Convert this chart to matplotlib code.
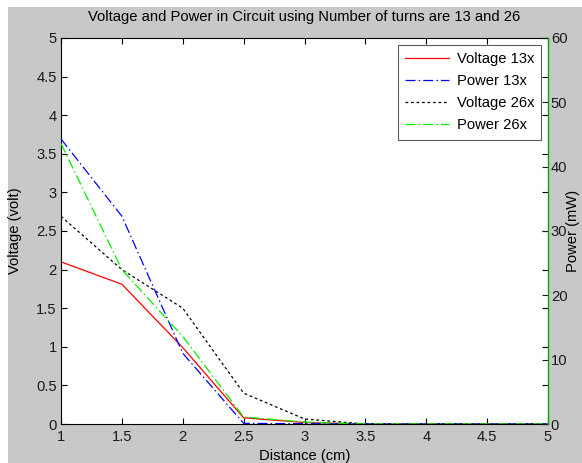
import matplotlib
matplotlib.use("Agg")
import matplotlib.pyplot as plt
from matplotlib.patches import Rectangle

plt.rcParams['font.family'] = ['Liberation Sans', 'DejaVu Sans']

distance = [1, 1.5, 2, 2.5, 3, 3.5, 4, 4.5, 5]
voltage_13 = [2.1, 1.81, 0.99, 0.08, 0.02, 0, 0, 0, 0]
power_13 = [44.3, 32.3, 11.0, 0.1, 0.05, 0, 0, 0, 0]
voltage_26 = [2.69, 2.0, 1.5, 0.4, 0.065, 0.0, 0, 0, 0]
power_26 = [43.6, 24.0, 13.6, 1.1, 0.3, 0, 0, 0, 0]

x_ticks = [1, 1.5, 2, 2.5, 3, 3.5, 4, 4.5, 5]
x_labels = ['1', '1.5', '2', '2.5', '3', '3.5', '4', '4.5', '5']
left_ticks = [0, 0.5, 1, 1.5, 2, 2.5, 3, 3.5, 4, 4.5, 5]
left_labels = ['0', '0.5', '1', '1.5', '2', '2.5', '3', '3.5', '4', '4.5', '5']
right_ticks = [0, 10, 20, 30, 40, 50, 60]

W, H = 582, 463
fig = plt.figure(figsize=(W / 100, H / 100), dpi=100)
fig.patch.set_facecolor('white')
fig.patches.append(Rectangle((8 / W, 0), 1 - 8 / W, 1 - 7 / H, transform=fig.transFigure,
                             facecolor='#c8c8c8', edgecolor='none', zorder=-10))

ax = fig.add_axes([61 / W, 1 - 424 / H, (548 - 61) / W, (424 - 38) / H])
ax.set_facecolor('white')
ax2 = ax.twinx()

fs = 10.6
l1, = ax.plot(distance, voltage_13, color='#ff0000', lw=0.9, label='Voltage 13x')
l3, = ax.plot(distance, voltage_26, color='black', lw=0.9, dashes=(2.2, 2.2), label='Voltage 26x')
l2, = ax2.plot(distance, power_13, color='#0000ff', lw=0.9, dashes=(8, 2.5, 1.2, 2.5), label='Power 13x')
l4, = ax2.plot(distance, power_26, color='#00ee00', lw=0.9, dashes=(8, 2.5, 1.2, 2.5), label='Power 26x')

ax.set_xlim(1, 5)
ax.set_ylim(0, 5)
ax2.set_ylim(0, 60)
ax.set_xticks(x_ticks)
ax.set_xticklabels(x_labels)
ax.set_yticks(left_ticks)
ax.set_yticklabels(left_labels)
ax2.set_yticks(right_ticks)

ax.tick_params(axis='both', direction='in', length=4, width=0.8, labelsize=fs,
               top=True, right=True, labelcolor='#1a1a1a', pad=3)
ax.tick_params(axis='x', pad=4)
ax2.tick_params(axis='y', direction='in', length=4, width=0.8, labelsize=fs,
                labelcolor='#1a1a1a', color='#1a1a1a', pad=2)

for s in ['left', 'bottom', 'top']:
    ax.spines[s].set_color('black')
    ax.spines[s].set_linewidth(0.8)
ax.spines['right'].set_visible(False)
for s in ['left', 'bottom', 'top']:
    ax2.spines[s].set_visible(False)
ax2.spines['right'].set_color('#00aa00')
ax2.spines['right'].set_linewidth(1.0)

ax.set_xlabel('Distance (cm)', fontsize=fs, labelpad=4)
ax.set_ylabel('Voltage (volt)', fontsize=fs, labelpad=10)
ax2.set_ylabel('Power (mW)', fontsize=fs, rotation=90, va='center', ha='center')
ax2.yaxis.set_label_coords((573 - 61) / (548 - 61), 0.5)
ax.set_title('Voltage and Power in Circuit using Number of turns are 13 and 26', fontsize=fs, pad=12)

leg = ax2.legend(handles=[l1, l2, l3, l4], loc='upper right', fontsize=fs,
                 frameon=True, fancybox=False, borderaxespad=0.45, handlelength=3.0,
                 labelspacing=0.55, borderpad=0.5, handletextpad=0.5)
leg.get_frame().set_edgecolor('#333333')
leg.get_frame().set_linewidth(0.8)

fig.savefig('out.png', dpi=100)
